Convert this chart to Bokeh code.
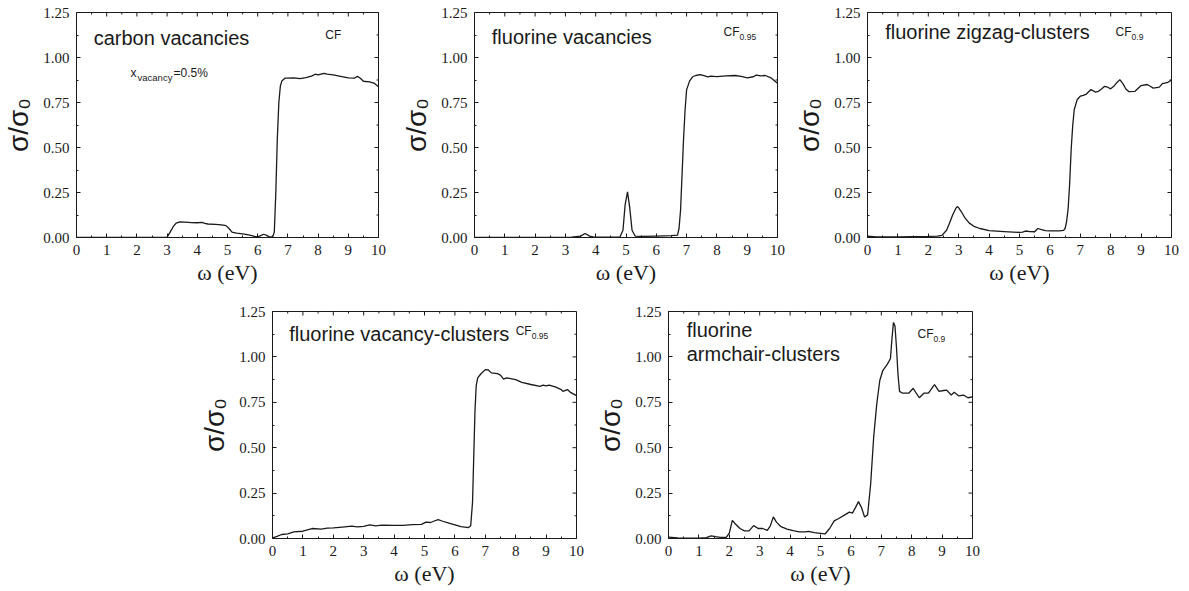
import math
from bokeh.plotting import figure
from bokeh.models import (Range1d, LinearAxis, FixedTicker, NumeralTickFormatter, Spacer)
from bokeh.layouts import row, column
from bokeh.core.properties import value
from bokeh.embed import file_html
from bokeh.resources import INLINE

# ---------------- data ----------------
x_ticks = [0, 1, 2, 3, 4, 5, 6, 7, 8, 9, 10]
x_minor = [0.5, 1.5, 2.5, 3.5, 4.5, 5.5, 6.5, 7.5, 8.5, 9.5]
y_ticks = [0.0, 0.25, 0.5, 0.75, 1.0, 1.25]
y_minor = [0.125, 0.375, 0.625, 0.875, 1.125]

# carbon vacancies, CF
x1 = [0, 1, 2, 2.9, 3.0, 3.1, 3.2, 3.3, 3.4, 3.6, 3.8, 4.0, 4.15, 4.25, 4.35, 4.6, 4.8, 4.95, 5.05,
      5.15, 5.3, 5.5, 5.7, 5.9, 6.0, 6.1, 6.2, 6.3, 6.4, 6.5, 6.55, 6.6, 6.65, 6.7, 6.75, 6.8, 6.9,
      7.0, 7.2, 7.4, 7.6, 7.8, 7.9, 8.0, 8.1, 8.2, 8.3, 8.5, 8.7, 9.0, 9.2, 9.3, 9.4, 9.5, 9.7, 9.85, 10.0]
y1 = [0, 0, 0, 0, 0.002, 0.03, 0.06, 0.08, 0.086, 0.085, 0.083, 0.082, 0.084, 0.078, 0.075, 0.073, 0.07,
      0.066, 0.05, 0.03, 0.024, 0.02, 0.014, 0.006, 0.003, 0.01, 0.018, 0.012, 0.002, 0.005, 0.03, 0.25,
      0.55, 0.75, 0.84, 0.87, 0.885, 0.885, 0.887, 0.883, 0.888, 0.898, 0.907, 0.903, 0.908, 0.912, 0.908,
      0.903, 0.897, 0.887, 0.885, 0.895, 0.885, 0.868, 0.865, 0.858, 0.838]

# fluorine vacancies, CF0.95
x2 = [0, 3.2, 3.5, 3.65, 3.8, 3.95, 4.8, 4.9, 4.97, 5.05, 5.12, 5.2, 5.3, 5.5, 6.0, 6.5, 6.7, 6.75, 6.8,
      6.85, 6.9, 6.95, 7.0, 7.1, 7.2, 7.3, 7.45, 7.6, 7.7, 7.8, 8.0, 8.3, 8.6, 8.8, 9.0, 9.2, 9.3, 9.45,
      9.6, 9.8, 10.0]
y2 = [0, 0.002, 0.008, 0.022, 0.008, 0.002, 0.003, 0.04, 0.18, 0.253, 0.17, 0.04, 0.008, 0.006, 0.008,
      0.01, 0.013, 0.05, 0.15, 0.35, 0.55, 0.71, 0.82, 0.87, 0.893, 0.9, 0.905, 0.898, 0.893, 0.897, 0.894,
      0.898, 0.9, 0.895, 0.887, 0.893, 0.902, 0.898, 0.9, 0.885, 0.857]

# fluorine zigzag-clusters, CF0.9
x3 = [0, 0.3, 0.6, 1.0, 1.5, 2.0, 2.3, 2.45, 2.6, 2.7, 2.8, 2.9, 2.95, 3.0, 3.1, 3.2, 3.35, 3.5, 3.7,
      4.0, 4.5, 5.0, 5.1, 5.2, 5.35, 5.5, 5.6, 5.7, 5.85, 6.0, 6.3, 6.45, 6.5, 6.55, 6.6, 6.65, 6.7,
      6.75, 6.8, 6.9, 7.0, 7.1, 7.2, 7.35, 7.5, 7.6, 7.7, 7.8, 7.9, 8.0, 8.1, 8.2, 8.3, 8.4, 8.5, 8.6,
      8.8, 9.0, 9.2, 9.3, 9.4, 9.6, 9.7, 9.85, 10.0]
y3 = [0.007, 0.004, 0.003, 0.004, 0.005, 0.006, 0.008, 0.012, 0.04, 0.08, 0.125, 0.16, 0.172, 0.165,
      0.14, 0.11, 0.08, 0.062, 0.05, 0.038, 0.033, 0.028, 0.03, 0.036, 0.033, 0.032, 0.05, 0.045, 0.038,
      0.037, 0.037, 0.04, 0.05, 0.09, 0.16, 0.3, 0.49, 0.62, 0.71, 0.767, 0.785, 0.79, 0.797, 0.822,
      0.808, 0.812, 0.825, 0.84, 0.835, 0.826, 0.84, 0.86, 0.877, 0.855, 0.825, 0.81, 0.812, 0.844,
      0.85, 0.84, 0.83, 0.835, 0.855, 0.86, 0.874]

# fluorine vacancy-clusters, CF0.95
x4 = [0, 0.15, 0.3, 0.5, 0.7, 1.0, 1.3, 1.6, 1.8, 2.0, 2.3, 2.6, 2.8, 3.0, 3.2, 3.4, 3.6, 4.0, 4.3,
      4.6, 4.9, 5.05, 5.2, 5.3, 5.45, 5.6, 5.8, 6.0, 6.2, 6.45, 6.52, 6.58, 6.62, 6.66, 6.7, 6.75, 6.85,
      7.0, 7.1, 7.2, 7.4, 7.5, 7.6, 7.7, 8.0, 8.2, 8.5, 8.8, 8.9, 9.0, 9.1, 9.3, 9.5, 9.55, 9.7, 9.8, 10.0]
y4 = [0.004, 0.012, 0.022, 0.025, 0.037, 0.04, 0.055, 0.052, 0.057, 0.058, 0.063, 0.068, 0.064, 0.067,
      0.075, 0.07, 0.074, 0.072, 0.072, 0.076, 0.078, 0.09, 0.088, 0.095, 0.104, 0.095, 0.085, 0.075,
      0.065, 0.06, 0.07, 0.2, 0.45, 0.7, 0.84, 0.885, 0.906, 0.93, 0.928, 0.912, 0.908, 0.9, 0.878,
      0.885, 0.875, 0.86, 0.848, 0.838, 0.845, 0.84, 0.845, 0.835, 0.82, 0.81, 0.82, 0.805, 0.787]

# fluorine armchair-clusters, CF0.9
x5 = [0, 0.3, 0.6, 1.0, 1.25, 1.4, 1.55, 1.7, 1.9, 2.0, 2.1, 2.2, 2.35, 2.5, 2.65, 2.8, 2.95, 3.1,
      3.25, 3.35, 3.45, 3.55, 3.7, 3.9, 4.1, 4.3, 4.5, 4.6, 4.8, 5.0, 5.15, 5.3, 5.45, 5.6, 5.8, 5.95,
      6.05, 6.15, 6.25, 6.35, 6.45, 6.55, 6.65, 6.75, 6.85, 6.95, 7.05, 7.2, 7.3, 7.35, 7.4, 7.45, 7.5,
      7.55, 7.6, 7.7, 7.9, 8.05, 8.15, 8.25, 8.4, 8.55, 8.75, 8.9, 9.05, 9.15, 9.3, 9.4, 9.55, 9.7,
      9.85, 10.0]
y5 = [0.008, 0.003, 0.002, 0.002, 0.005, 0.015, 0.01, 0.006, 0.006, 0.03, 0.1, 0.08, 0.055, 0.042,
      0.042, 0.071, 0.055, 0.055, 0.045, 0.07, 0.119, 0.09, 0.065, 0.052, 0.043, 0.037, 0.036, 0.039,
      0.032, 0.028, 0.025, 0.055, 0.097, 0.11, 0.13, 0.145, 0.14, 0.17, 0.203, 0.17, 0.118, 0.13, 0.3,
      0.56, 0.74, 0.87, 0.925, 0.96, 0.99, 1.1, 1.19, 1.17, 1.05, 0.9, 0.81, 0.8, 0.8, 0.827, 0.8,
      0.775, 0.8, 0.8, 0.847, 0.81, 0.815, 0.817, 0.79, 0.805, 0.785, 0.79, 0.775, 0.78]

SANS = "Liberation Sans"
SERIF = "Liberation Serif"
INK = "#1a1a1a"


def style_axis(ax):
    ax.axis_line_color = INK
    ax.axis_line_width = 1
    ax.major_tick_in = 4
    ax.major_tick_out = 0
    ax.minor_tick_in = 2
    ax.minor_tick_out = 0
    ax.major_tick_line_color = INK
    ax.minor_tick_line_color = INK
    ax.major_label_text_font = SERIF
    ax.major_label_text_font_size = "15px"
    ax.major_label_text_color = INK
    ax.major_label_standoff = 7


def panel(xs, ys, width, height, bl, br, bt, bb):
    p = figure(width=width, height=height, output_backend="svg", toolbar_location=None,
               x_range=Range1d(0, 10), y_range=Range1d(0, 1.25),
               min_border_left=bl, min_border_right=br, min_border_top=bt, min_border_bottom=bb,
               x_axis_location=None, y_axis_location=None)
    p.grid.visible = False
    p.outline_line_color = INK
    p.background_fill_color = "white"
    p.border_fill_color = "white"
    xt = FixedTicker(ticks=x_ticks, minor_ticks=x_minor)
    yt = FixedTicker(ticks=y_ticks, minor_ticks=y_minor)
    xb = LinearAxis(ticker=xt, axis_label="ω (eV)")
    style_axis(xb)
    xb.axis_label_text_font = SERIF
    xb.axis_label_text_font_size = "22px"
    xb.axis_label_text_font_style = "normal"
    xb.axis_label_text_color = INK
    xb.axis_label_standoff = 2
    yl = LinearAxis(ticker=yt, formatter=NumeralTickFormatter(format="0.00"), axis_label="σ/σ₀")
    style_axis(yl)
    yl.axis_label_text_font = SANS
    yl.axis_label_text_font_size = "28px"
    yl.axis_label_text_font_style = "normal"
    yl.axis_label_text_color = INK
    yl.axis_label_standoff = 6
    p.add_layout(xb, "below")
    p.add_layout(yl, "left")
    # mirrored inward ticks on the top and right edges
    p.ray(x=x_ticks, y=[1.25] * len(x_ticks), length=4, length_units="screen",
          angle=-math.pi / 2, line_color=INK, line_width=1)
    p.ray(x=x_minor, y=[1.25] * len(x_minor), length=2, length_units="screen",
          angle=-math.pi / 2, line_color=INK, line_width=1)
    p.ray(x=[10] * len(y_ticks), y=y_ticks, length=4, length_units="screen",
          angle=math.pi, line_color=INK, line_width=1)
    p.ray(x=[10] * len(y_minor), y=y_minor, length=2, length_units="screen",
          angle=math.pi, line_color=INK, line_width=1)
    p.line(xs, ys, line_color=INK, line_width=1.3)
    return p


def label(p, x, y, txt, size="20px"):
    p.text(x=[x], y=[y], text=[txt], text_font=value(SANS), text_font_size=size,
           text_color=INK, text_baseline="middle", text_align="left")


def tag(p, x, y, sub):
    p.text(x=[x], y=[y], text=["CF"], text_font=value(SANS), text_font_size="12px",
           text_color=INK, text_baseline="middle", text_align="left")
    if sub:
        p.text(x=[x], y=[y], text=[sub], text_font=value(SANS), text_font_size="8.5px",
               text_color=INK, text_baseline="middle", text_align="left",
               x_offset=16, y_offset=5)


# Row 1
f1 = panel(x1, y1, 398, 289, 76, 20, 9, 52)
label(f1, 0.57, 1.11, "carbon vacancies")
tag(f1, 8.24, 1.125, None)
f1.text(x=[1.79], y=[0.916], text=["x"], text_font=value(SANS), text_font_size="12px",
        text_color=INK, text_baseline="middle", text_align="left")
f1.text(x=[1.79], y=[0.916], text=["vacancy"], text_font=value(SANS), text_font_size="9.5px",
        text_color=INK, text_baseline="middle", text_align="left", x_offset=7, y_offset=5)
f1.text(x=[1.79], y=[0.916], text=["=0.5%"], text_font=value(SANS), text_font_size="12px",
        text_color=INK, text_baseline="middle", text_align="left", x_offset=43)

f2 = panel(x2, y2, 393, 289, 76, 14, 12, 49)
label(f2, 0.57, 1.116, "fluorine vacancies")
tag(f2, 8.22, 1.14, "0.95")

f3 = panel(x3, y3, 397, 289, 76, 17, 12, 49)
label(f3, 0.58, 1.143, "fluorine zigzag-clusters")
tag(f3, 8.16, 1.14, "0.9")

# Row 2
f4 = panel(x4, y4, 396, 301, 76, 16, 22, 52)
label(f4, 0.55, 1.125, "fluorine vacancy-clusters")
tag(f4, 8.0, 1.14, "0.95")

f5 = panel(x5, y5, 596, 301, 76, 216, 22, 52)
label(f5, 0.6, 1.148, "fluorine")
label(f5, 0.6, 1.016, "armchair-clusters")
tag(f5, 8.19, 1.126, "0.9")

layout = column(row(f1, f2, f3), row(Spacer(width=196, height=301), f4, f5))

open("out.html", "w").write(file_html(layout, INLINE))
